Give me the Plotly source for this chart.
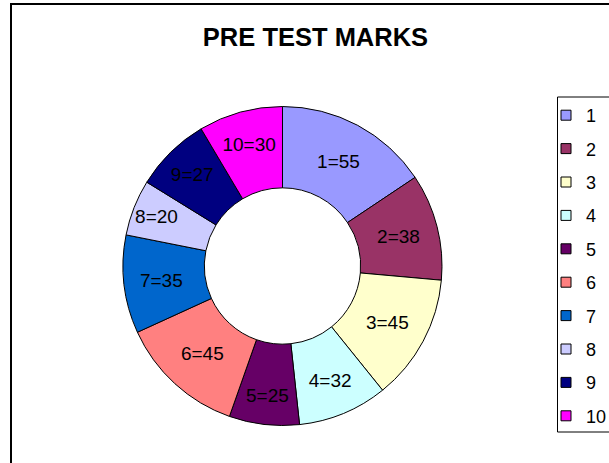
import plotly.graph_objects as go

W, H = 609, 463

labels = ["1", "2", "3", "4", "5", "6", "7", "8", "9", "10"]
values = [55, 38, 45, 32, 25, 45, 35, 20, 27, 30]
colors = ["#9999FF", "#993366", "#FFFFCC", "#CCFFFF", "#660066",
          "#FF8080", "#0066CC", "#CCCCFF", "#000080", "#FF00FF"]
title_text = "PRE TEST MARKS"

FONT = "Liberation Sans, Arial, sans-serif"

fig = go.Figure()

fig.add_trace(go.Pie(
    labels=labels,
    values=values,
    marker=dict(colors=colors, line=dict(color="black", width=1)),
    hole=0.49,
    sort=False,
    direction="clockwise",
    rotation=0,
    texttemplate="%{label}=%{value}",
    textposition="inside",
    insidetextorientation="horizontal",
    textfont=dict(family=FONT, size=19, color="black"),
    domain=dict(x=[123 / W, 442 / W], y=[1 - 425.5 / H, 1 - 106.5 / H]),
    showlegend=False,
    hoverinfo="label+value",
))

# legend entries (one per slice, same data)
for lab, col in zip(labels, colors):
    fig.add_trace(go.Scatter(
        x=[None], y=[None], mode="markers", name=lab,
        legendgroup=lab,
        marker=dict(symbol="square", size=10, color=col,
                    line=dict(color="black", width=1)),
    ))

fig.update_layout(
    width=W, height=H,
    margin=dict(l=0, r=0, t=0, b=0, autoexpand=False),
    paper_bgcolor="white",
    plot_bgcolor="white",
    xaxis=dict(visible=False),
    yaxis=dict(visible=False),
    title=dict(text="<b>" + title_text + "</b>", x=315.5 / W, y=1 - 37 / H,
               xref="paper", yref="paper",
               xanchor="center", yanchor="middle",
               font=dict(family=FONT, size=25.5, color="black")),
    legend=dict(x=546 / W, y=1 - 97 / H, xanchor="left", yanchor="top",
                font=dict(family=FONT, size=18, color="black"),
                traceorder="grouped", tracegroupgap=7,
                bgcolor="rgba(0,0,0,0)", borderwidth=0),
    shapes=[
        dict(type="rect", xref="paper", yref="paper",
             x0=11 / W, x1=1.05, y0=-0.05, y1=1 - 4 / H,
             line=dict(color="black", width=2), fillcolor="rgba(0,0,0,0)"),
        dict(type="rect", xref="paper", yref="paper",
             x0=557.5 / W, x1=1.05, y0=1 - 432 / H, y1=1 - 97 / H,
             line=dict(color="black", width=1), fillcolor="rgba(0,0,0,0)"),
    ],
    uniformtext=dict(minsize=19, mode="show"),
    showlegend=True,
)

fig.write_html(
    "out.html",
    config={"displayModeBar": False},
    post_script="document.body.style.margin='0';document.body.style.overflow='hidden';",
)
